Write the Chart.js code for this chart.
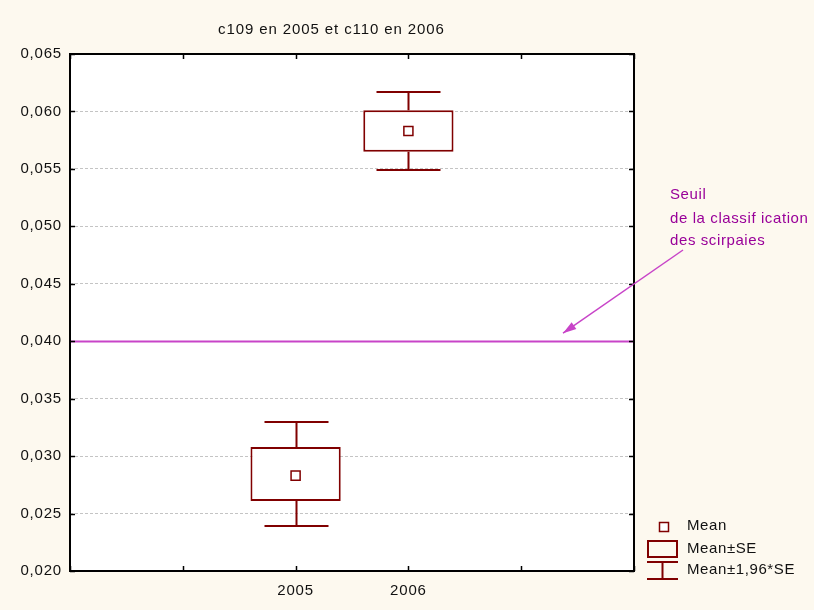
<!DOCTYPE html>
<html lang="fr">
<head>
    <meta charset="UTF-8">
    <title>c109 en 2005 et c110 en 2006</title>
    <style>
        body {
            margin: 0;
            padding: 0;
            background-color: #fdf9ef;
        }
        #chart {
            display: block;
        }
    </style>
    <script src="https://cdn.jsdelivr.net/npm/chart.js"></script>
</head>
<body>
    <canvas id="chart" width="814" height="610"></canvas>
    <script>
        // data
        const years = ['2005', '2006'];
        const means = [0.0283, 0.0583];
        const seLow = [0.0261, 0.0565];
        const seHigh = [0.0308, 0.0601];
        const ciLow = [0.0239, 0.0549];
        const ciHigh = [0.0330, 0.0617];
        const threshold = 0.040;
        const yMin = 0.020, yMax = 0.065, yStep = 0.005;
        const slots = ['', ''].concat(years, ['', '']);

        const maroon = '#800000';
        const magenta = '#c844c8';
        const fontFamily = '"Liberation Sans", Arial, sans-serif';

        const framePlugin = {
            id: 'frame',
            beforeDraw(chart) {
                const ctx = chart.ctx, a = chart.chartArea;
                ctx.letterSpacing = '0.8px';
                ctx.save();
                ctx.fillStyle = '#fdf9ef';
                ctx.fillRect(0, 0, chart.width, chart.height);
                ctx.fillStyle = '#ffffff';
                ctx.fillRect(a.left, a.top, a.right - a.left, a.bottom - a.top);
                ctx.restore();
            },
            afterDatasetsDraw(chart) {
                const ctx = chart.ctx, a = chart.chartArea;
                const x = chart.scales.x, y = chart.scales.y;
                ctx.save();

                // threshold line
                const ty = Math.round(y.getPixelForValue(threshold)) + 0.5;
                ctx.strokeStyle = magenta;
                ctx.lineWidth = 2;
                ctx.beginPath();
                ctx.moveTo(a.left, ty);
                ctx.lineTo(a.right, ty);
                ctx.stroke();

                // whiskers (mean +- 1.96 SE)
                ctx.strokeStyle = maroon;
                ctx.lineWidth = 2;
                years.forEach((yr, i) => {
                    const cx = Math.round(x.getPixelForValue(slots.indexOf(yr))) + 0.5;
                    const half = 32;
                    const pTop = Math.round(y.getPixelForValue(ciHigh[i]));
                    const pBot = Math.round(y.getPixelForValue(ciLow[i]));
                    const bTop = y.getPixelForValue(seHigh[i]);
                    const bBot = y.getPixelForValue(seLow[i]);
                    ctx.beginPath();
                    ctx.moveTo(cx, pTop); ctx.lineTo(cx, bTop);
                    ctx.moveTo(cx, bBot); ctx.lineTo(cx, pBot);
                    ctx.moveTo(cx - half, pTop); ctx.lineTo(cx + half, pTop);
                    ctx.moveTo(cx - half, pBot); ctx.lineTo(cx + half, pBot);
                    ctx.stroke();
                });
                ctx.restore();
            },
            afterDraw(chart) {
                const ctx = chart.ctx, a = chart.chartArea;
                const x = chart.scales.x, y = chart.scales.y;
                ctx.save();

                // frame and inward ticks
                ctx.strokeStyle = '#000000';
                ctx.lineWidth = 2;
                ctx.strokeRect(a.left, a.top, a.right - a.left, a.bottom - a.top);
                ctx.lineWidth = 1.5;
                ctx.beginPath();
                y.ticks.forEach(t => {
                    const py = Math.round(y.getPixelForValue(t.value)) + 0.5;
                    ctx.moveTo(a.left, py); ctx.lineTo(a.left + 5, py);
                    ctx.moveTo(a.right, py); ctx.lineTo(a.right - 5, py);
                });
                slots.forEach((s, i) => {
                    const px = Math.round(x.getPixelForValue(i)) + 0.5;
                    ctx.moveTo(px, a.top); ctx.lineTo(px, a.top + 5);
                    ctx.moveTo(px, a.bottom); ctx.lineTo(px, a.bottom - 5);
                });
                ctx.stroke();

                // title
                ctx.letterSpacing = '0.9px';
                ctx.fillStyle = '#111111';
                ctx.font = '15px ' + fontFamily;
                ctx.textAlign = 'left';
                ctx.textBaseline = 'middle';
                ctx.fillText('c109 en 2005 et c110 en 2006', 218, 30);

                // annotation
                ctx.letterSpacing = '0.6px';
                ctx.fillStyle = '#990099';
                ctx.fillText('Seuil', 670, 195);
                ctx.fillText('de la classif ication', 670, 219);
                ctx.fillText('des scirpaies', 670, 241);
                const ty = y.getPixelForValue(threshold);
                const x0 = 683, y0 = 250, x1 = 563, y1 = ty - 8;
                ctx.strokeStyle = magenta;
                ctx.fillStyle = magenta;
                ctx.lineWidth = 1.5;
                ctx.beginPath();
                ctx.moveTo(x0, y0); ctx.lineTo(x1, y1);
                ctx.stroke();
                const ang = Math.atan2(y1 - y0, x1 - x0);
                ctx.beginPath();
                ctx.moveTo(x1, y1);
                ctx.lineTo(x1 - 14 * Math.cos(ang - 0.3), y1 - 14 * Math.sin(ang - 0.3));
                ctx.lineTo(x1 - 14 * Math.cos(ang + 0.3), y1 - 14 * Math.sin(ang + 0.3));
                ctx.closePath();
                ctx.fill();

                // legend
                ctx.letterSpacing = '0.6px';
                ctx.strokeStyle = maroon;
                ctx.lineWidth = 1.5;
                ctx.fillStyle = '#ffffff';
                ctx.fillRect(659.5, 522.5, 9, 9);
                ctx.strokeRect(659.5, 522.5, 9, 9);
                ctx.lineWidth = 2;
                ctx.strokeRect(648, 541, 29, 16);
                ctx.beginPath();
                ctx.moveTo(647, 562); ctx.lineTo(678, 562);
                ctx.moveTo(662.5, 562); ctx.lineTo(662.5, 579);
                ctx.moveTo(647, 579); ctx.lineTo(678, 579);
                ctx.stroke();
                ctx.fillStyle = '#111111';
                ctx.fillText('Mean', 687, 526);
                ctx.fillText('Mean\u00b1SE', 687, 549);
                ctx.fillText('Mean\u00b11,96*SE', 687, 570);
                ctx.restore();
            }
        };

        new Chart(document.getElementById('chart'), {
            data: {
                labels: slots,
                datasets: [
                    {
                        type: 'line',
                        data: years.map((yr, i) => ({ x: yr, y: means[i] })),
                        showLine: false,
                        pointStyle: 'rect',
                        pointRadius: 6.4,
                        pointBorderWidth: 1.5,
                        pointBorderColor: maroon,
                        pointBackgroundColor: '#ffffff',
                        order: 0
                    },
                    {
                        type: 'bar',
                        data: years.map((yr, i) => ({ x: yr, y: [seLow[i], seHigh[i]] })),
                        backgroundColor: '#ffffff',
                        borderColor: maroon,
                        borderWidth: 2,
                        borderSkipped: false,
                        categoryPercentage: 1,
                        barPercentage: 0.8,
                        order: 1
                    }
                ]
            },
            options: {
                responsive: false,
                animation: false,
                layout: { padding: { top: 54, right: 180, left: 0, bottom: 0 } },
                plugins: {
                    legend: { display: false },
                    tooltip: { enabled: false },
                    title: { display: false }
                },
                scales: {
                    x: {
                        type: 'category',
                        offset: false,
                        grid: { display: false, drawTicks: false },
                        border: { display: false },
                        ticks: {
                            autoSkip: false,
                            maxRotation: 0,
                            padding: 11,
                            color: '#111111',
                            font: { family: fontFamily, size: 15 }
                        },
                        afterFit(scale) { scale.height = 39; }
                    },
                    y: {
                        min: yMin,
                        max: yMax,
                        grid: {
                            color: '#c4c4c4',
                            lineWidth: 1,
                            drawTicks: false
                        },
                        border: { display: false, dash: [3, 2] },
                        ticks: {
                            stepSize: yStep,
                            padding: 8,
                            color: '#111111',
                            font: { family: fontFamily, size: 15 },
                            callback: v => v.toFixed(3).replace('.', ',')
                        },
                        afterFit(scale) { scale.width = 70; }
                    }
                }
            },
            plugins: [framePlugin]
        });
    </script>
</body>
</html>
